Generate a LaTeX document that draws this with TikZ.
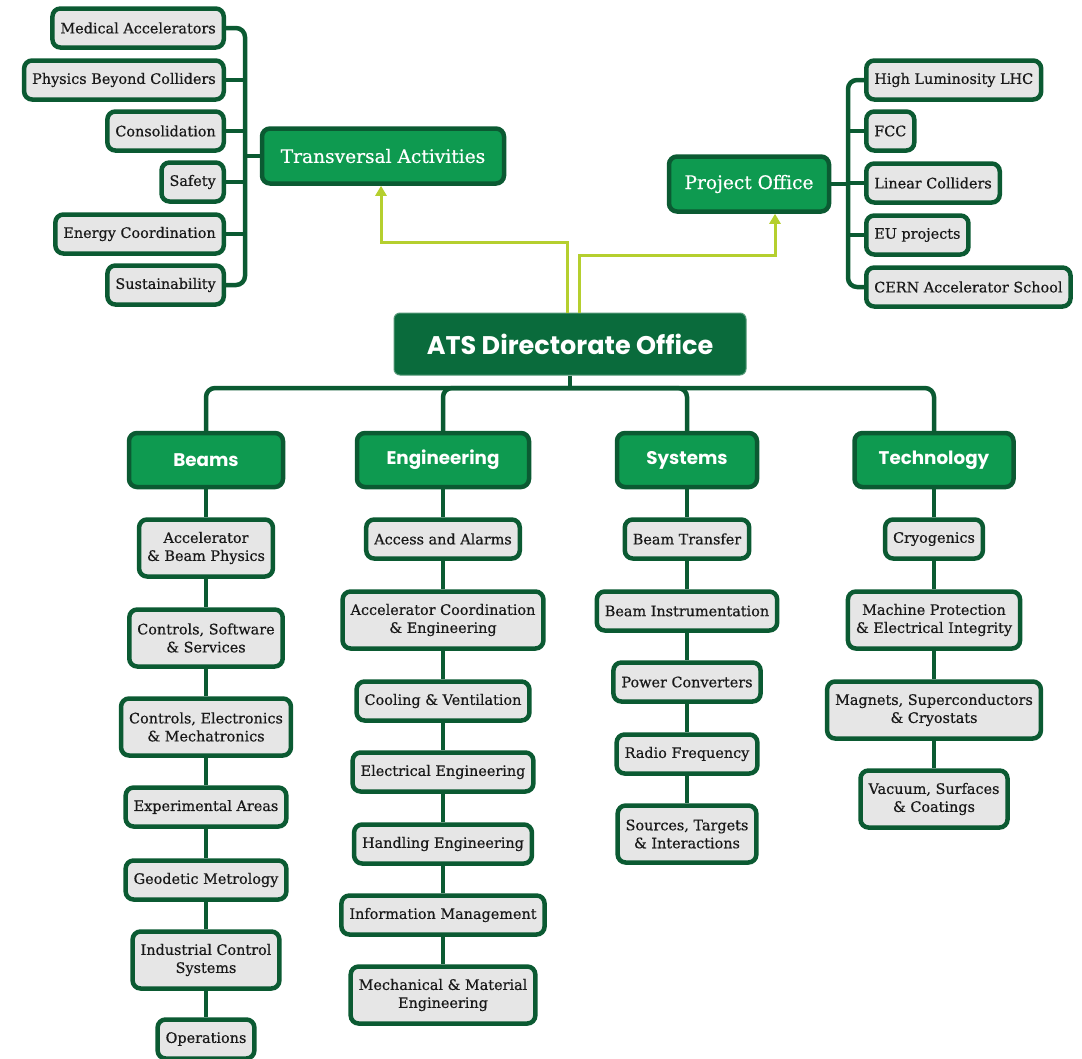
\documentclass[tikz,border=0pt]{standalone}
\usepackage{fontspec}
\setmainfont{DejaVu Serif}[FakeBold=0.5]
\newfontfamily\headfont{Poppins}
\usetikzlibrary{arrows.meta}

\definecolor{atsdark}{HTML}{0B5A32}
\definecolor{atsgreen}{HTML}{0E9A50}
\definecolor{atsdeep}{HTML}{0A6B3C}
\definecolor{atsgrey}{HTML}{E6E6E6}
\definecolor{atslime}{HTML}{B5CF2E}

\tikzset{
  unit/.style={draw=atsdark, line width=4.5pt, fill=atsgrey, rounded corners=8pt,
    inner xsep=8pt, minimum height=39pt, align=center, text=black!90,
    font=\fontsize{14.4}{18}\selectfont},
  twoline/.style={minimum height=57pt},
  dept/.style={draw=atsdark, line width=4.5pt, fill=atsgreen, rounded corners=8pt,
    minimum height=54pt, text=white, font=\headfont\bfseries\fontsize{18.3}{22}\selectfont},
  office/.style={draw=atsdark, line width=4.5pt, fill=atsgreen, rounded corners=8pt,
    minimum height=55pt, text=white, font=\fontsize{18.6}{22}\selectfont},
  link/.style={draw=atsdark, line width=4.5pt, rounded corners=9pt},
  lift/.style={draw=atslime, line width=3pt, -{Triangle[width=11pt,length=10pt]}},
}

\begin{document}
\begin{tikzpicture}[x=1pt,y=-1pt]
  \useasboundingbox (0,0) rectangle (1082,1058);

  %%%%% OFFICES %%%%%
  \node[draw=atsdeep!70!white, line width=1pt, fill=atsdeep, rounded corners=6pt,
    minimum width=352pt, minimum height=62pt, text=white,
    font=\headfont\bfseries\fontsize{25.5}{30}\selectfont] (ats) at (570,344) {ATS Directorate Office};
  \node[office, minimum width=242pt] (trans) at (383,156) {Transversal Activities};
  \node[office, minimum width=160pt] (proj) at (749,184) {Project Office};

  %%%%% TRANSVERSAL ACTIVITIES %%%%%
  \node[unit, anchor=east] (med) at (226,28) {Medical Accelerators};
  \node[unit, anchor=east] (pbc) at (226,80) {Physics Beyond Colliders};
  \node[unit, anchor=east] (cons) at (226,131) {Consolidation};
  \node[unit, anchor=east] (saf) at (226,182) {Safety};
  \node[unit, anchor=east] (ener) at (226,234) {Energy Coordination};
  \node[unit, anchor=east] (sust) at (226,285) {Sustainability};
  \coordinate (ltrunk) at (245,156);

  \draw[link] (med.east) -| (ltrunk) |- (sust.east);
  \draw[link] (pbc.east) -- (pbc.east -| ltrunk);
  \draw[link] (cons.east) -- (cons.east -| ltrunk);
  \draw[link] (saf.east) -- (saf.east -| ltrunk);
  \draw[link] (ener.east) -- (ener.east -| ltrunk);
  \draw[link] (ltrunk) -- (trans.west);

  %%%%% PROJECT OFFICE %%%%%
  \node[unit, anchor=west] (hllhc) at (864,80) {High Luminosity LHC};
  \node[unit, anchor=west] (fcc) at (864,131) {FCC};
  \node[unit, anchor=west] (lin) at (864,183) {Linear Colliders};
  \node[unit, anchor=west] (eup) at (864,235) {EU projects};
  \node[unit, anchor=west] (cas) at (864,287) {CERN Accelerator School};
  \coordinate (rtrunk) at (848,184);

  \draw[link] (hllhc.west) -| (rtrunk) |- (cas.west);
  \draw[link] (fcc.west) -- (fcc.west -| rtrunk);
  \draw[link] (lin.west) -- (lin.west -| rtrunk);
  \draw[link] (eup.west) -- (eup.west -| rtrunk);
  \draw[link] (proj.east) -- (rtrunk);

  \draw[lift] ([xshift=-3pt]ats.north) -- ++(0,-70) -| ([xshift=-2pt]trans.south);
  \draw[lift] ([xshift=9pt]ats.north) -- ++(0,-57) -| ([xshift=26pt]proj.south);

  %%%%% DEPARTMENTS %%%%%
  \node[dept, minimum width=154pt] (beams) at (206,460) {Beams};
  \node[dept, minimum width=172pt] (eng) at (443,460) {Engineering};
  \node[dept, minimum width=140pt] (sys) at (687,460) {Systems};
  \node[dept, minimum width=159pt] (tech) at (934,460) {Technology};
  \coordinate (bus) at (570,388);

  \draw[link] (ats.south) -- (bus);
  \draw[link] (beams.north) |- (bus) -| (tech.north);
  \draw[link] (eng.north) |- (bus) -| (sys.north);

  % Beams
  \node[unit, twoline] (abp) at (206,548) {Accelerator\\\& Beam Physics};
  \node[unit, twoline] (css) at (206,638) {Controls, Software\\\& Services};
  \node[unit, twoline] (cem) at (206,727) {Controls, Electronics\\\& Mechatronics};
  \node[unit] (ea) at (206,807) {Experimental Areas};
  \node[unit] (geo) at (206,880) {Geodetic Metrology};
  \node[unit, twoline] (ics) at (206,960) {Industrial Control\\Systems};
  \node[unit] (ops) at (206,1039) {Operations};
  \draw[link] (beams) -- (abp) -- (css) -- (cem) -- (ea) -- (geo) -- (ics) -- (ops);

  % Engineering
  \node[unit] (aal) at (443,539) {Access and Alarms};
  \node[unit, twoline] (ace) at (443,620) {Accelerator Coordination\\\& Engineering};
  \node[unit] (cv) at (443,701) {Cooling \& Ventilation};
  \node[unit] (ee) at (443,772) {Electrical Engineering};
  \node[unit] (he) at (443,844) {Handling Engineering};
  \node[unit] (im) at (443,915) {Information Management};
  \node[unit, twoline] (mme) at (443,995) {Mechanical \& Material\\Engineering};
  \draw[link] (eng) -- (aal) -- (ace) -- (cv) -- (ee) -- (he) -- (im) -- (mme);

  % Systems
  \node[unit] (bt) at (687,539) {Beam Transfer};
  \node[unit] (bi) at (687,611) {Beam Instrumentation};
  \node[unit] (pc) at (687,682) {Power Converters};
  \node[unit] (rf) at (687,754) {Radio Frequency};
  \node[unit, twoline] (sti) at (687,834) {Sources, Targets\\\& Interactions};
  \draw[link] (sys) -- (bt) -- (bi) -- (pc) -- (rf) -- (sti);

  % Technology
  \node[unit] (cryo) at (934,539) {Cryogenics};
  \node[unit, twoline] (mpe) at (934,620) {Machine Protection\\\& Electrical Integrity};
  \node[unit, twoline] (msc) at (934,710) {Magnets, Superconductors\\\& Cryostats};
  \node[unit, twoline] (vsc) at (934,799) {Vacuum, Surfaces\\\& Coatings};
  \draw[link] (tech) -- (cryo) -- (mpe) -- (msc) -- (vsc);
\end{tikzpicture}
\end{document}
